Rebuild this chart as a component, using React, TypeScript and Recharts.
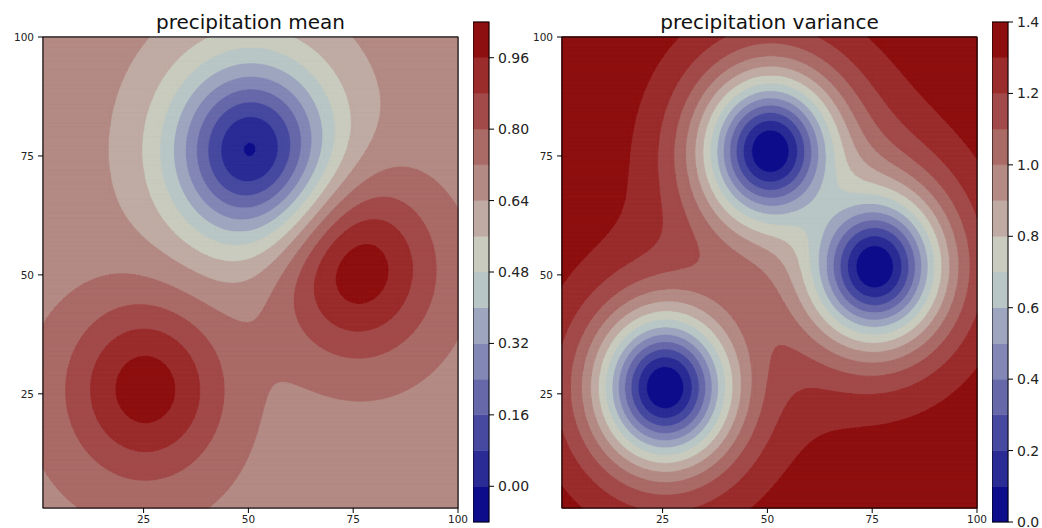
import React from 'react';
import { ComposedChart, XAxis, YAxis, ReferenceArea } from 'recharts';

// ---------- values ----------
const titles = ['precipitation mean', 'precipitation variance'];

// grid coordinates (both axes run 1..100)
const gridCoords: number[] = Array.from({ length: 100 }, (_, i) => i + 1);
const axisTicks = [25, 50, 75, 100];

// observation sites (centres of the wells / peaks)
const siteX = [50.7, 75.6, 25.6];
const siteY = [76.0, 51.7, 26.3];

// mean surface: background level + a bump at every site
const meanBackground = 0.7;
const meanPeak = [-0.665, 0.35, 0.32];
const meanSpread = [360, 350, 350];
const meanHalo = [-0.05, 0, 0];
const meanHaloSpread = [3000, 3000, 3000];

// variance surface: prior variance, correlation scale / power
const priorVariance = 1.4;
const corrScale = 950;
const corrPower = 1.8;

// contour levels and colours
const meanLevels = [-0.08, 0, 0.08, 0.16, 0.24, 0.32, 0.4, 0.48, 0.56, 0.64, 0.72, 0.8, 0.88, 0.96, 1.04];
const varLevels = [0, 0.1, 0.2, 0.3, 0.4, 0.5, 0.6, 0.7, 0.8, 0.9, 1.0, 1.1, 1.2, 1.3, 1.4];
const bandColors = [
  '#0d0d8c', '#2b2b96', '#4749a0', '#6668aa', '#8387b6', '#9ea6bf', '#b9c6c6',
  '#c8cbbd', '#bfaba3', '#b48a84', '#aa6a66', '#a24a49', '#9a2c2c', '#8e0f0f',
];
const meanTicks = [0, 0.16, 0.32, 0.48, 0.64, 0.8, 0.96];
const varTicks = [0, 0.2, 0.4, 0.6, 0.8, 1.0, 1.2, 1.4];

// ---------- surfaces ----------
function meanAt(u: number, v: number): number {
  let s = meanBackground;
  for (let i = 0; i < siteX.length; i++) {
    const d2 = (u - siteX[i]) ** 2 + (v - siteY[i]) ** 2;
    s += meanPeak[i] * Math.exp(-d2 / meanSpread[i]) + meanHalo[i] * Math.exp(-d2 / meanHaloSpread[i]);
  }
  return s;
}

const corr = (d2: number) => Math.pow(1 + d2 / corrScale, -corrPower);

// each site removes part of the prior variance; the sites' informations add
function varAt(u: number, v: number): number {
  let prec = -(siteX.length - 1) / priorVariance;
  for (let i = 0; i < siteX.length; i++) {
    const k = corr((u - siteX[i]) ** 2 + (v - siteY[i]) ** 2);
    const vi = Math.max(1e-6, priorVariance * (1 - k * k));
    prec += 1 / vi;
  }
  return Math.max(0, 1 / prec);
}

const meanField = gridCoords.map((v) => gridCoords.map((u) => meanAt(u, v)));
const varField = gridCoords.map((v) => gridCoords.map((u) => varAt(u, v)));

// ---------- filled contour drawn inside the library's rectangle ----------
function makeContour(field: number[][], levels: number[]) {
  return (props: any) => {
    const { x, y, width, height } = props;
    const n = gridCoords.length;
    const g0 = gridCoords[0];
    const g1 = gridCoords[n - 1];
    const sx = (u: number) => (x + ((u - g0) / (g1 - g0)) * width).toFixed(2);
    const sy = (v: number) => (y + ((g1 - v) / (g1 - g0)) * height).toFixed(2);
    const paths: React.ReactNode[] = [];
    for (let k = 1; k < levels.length - 1; k++) {
      const t = levels[k];
      const parts: string[] = [];
      const rect = (i0: number, i1: number, j: number) =>
        `M${sx(gridCoords[i0])},${sy(gridCoords[j])}L${sx(gridCoords[i1])},${sy(gridCoords[j])}L${sx(gridCoords[i1])},${sy(gridCoords[j + 1])}L${sx(gridCoords[i0])},${sy(gridCoords[j + 1])}Z`;
      for (let j = 0; j < n - 1; j++) {
        let run = -1;
        for (let i = 0; i < n - 1; i++) {
          const a = field[j][i], b = field[j][i + 1], c = field[j + 1][i + 1], e = field[j + 1][i];
          const full = a >= t && b >= t && c >= t && e >= t;
          if (full) {
            if (run < 0) run = i;
            continue;
          }
          if (run >= 0) {
            parts.push(rect(run, i, j));
            run = -1;
          }
          if (a < t && b < t && c < t && e < t) continue;
          const cs: number[][] = [
            [gridCoords[i], gridCoords[j], a],
            [gridCoords[i + 1], gridCoords[j], b],
            [gridCoords[i + 1], gridCoords[j + 1], c],
            [gridCoords[i], gridCoords[j + 1], e],
          ];
          const pts: string[] = [];
          for (let m = 0; m < 4; m++) {
            const p = cs[m], q = cs[(m + 1) % 4];
            if (p[2] >= t) pts.push(`${sx(p[0])},${sy(p[1])}`);
            if (p[2] >= t !== q[2] >= t) {
              const f = (t - p[2]) / (q[2] - p[2]);
              pts.push(`${sx(p[0] + f * (q[0] - p[0]))},${sy(p[1] + f * (q[1] - p[1]))}`);
            }
          }
          parts.push('M' + pts.join('L') + 'Z');
        }
        if (run >= 0) parts.push(rect(run, n - 1, j));
      }
      paths.push(
        <path key={k} d={parts.join('')} fill={bandColors[k]} stroke={bandColors[k]} strokeWidth={0.6} strokeLinejoin="round" />
      );
    }
    return (
      <g>
        <rect x={x} y={y} width={width} height={height} fill={bandColors[0]} />
        {paths}
        <rect x={x} y={y} width={width} height={height} fill="none" stroke="#000" strokeWidth={1} />
      </g>
    );
  };
}

// colour bar drawn inside the library's rectangle for the full value range
function makeBar(levels: number[]) {
  return (props: any) => {
    const { x, y, width, height } = props;
    const lo = levels[0];
    const hi = levels[levels.length - 1];
    const py = (v: number) => y + ((hi - v) / (hi - lo)) * height;
    return (
      <g>
        {levels.slice(0, -1).map((l, k) => (
          <rect
            key={k}
            x={x}
            y={py(levels[k + 1])}
            width={width}
            height={py(l) - py(levels[k + 1])}
            fill={bandColors[k]}
            stroke={bandColors[k]}
            strokeWidth={0.5}
          />
        ))}
        <rect x={x} y={y} width={width} height={height} fill="none" stroke="#000" strokeWidth={1} />
      </g>
    );
  };
}

const tickFont = { fontSize: 10.5, fill: '#222', fontFamily: 'DejaVu Sans' };
const cbFont = { fontSize: 14, fill: '#222', fontFamily: 'DejaVu Sans' };

function FieldPanel({ field, levels }: { field: number[][]; levels: number[] }) {
  return (
    <ComposedChart width={480} height={528} margin={{ top: 37, right: 22, bottom: 0, left: 0 }} data={[]}>
      <XAxis
        type="number"
        dataKey="x"
        domain={[1, 100]}
        ticks={axisTicks}
        interval={0}
        allowDataOverflow
        axisLine={false}
        tickLine={{ stroke: '#000' }}
        tickSize={5}
        tickMargin={3}
        height={20}
        tick={tickFont}
      />
      <YAxis
        type="number"
        dataKey="y"
        domain={[1, 100]}
        ticks={axisTicks}
        interval={0}
        allowDataOverflow
        axisLine={false}
        tickLine={{ stroke: '#000' }}
        tickSize={5}
        tickMargin={4}
        width={43}
        tick={tickFont}
      />
      <ReferenceArea x1={1} x2={100} y1={1} y2={100} shape={makeContour(field, levels)} />
    </ComposedChart>
  );
}

function ColorBar({ levels, ticks, digits }: { levels: number[]; ticks: number[]; digits: number }) {
  const lo = levels[0];
  const hi = levels[levels.length - 1];
  return (
    <ComposedChart width={66} height={516} margin={{ top: 10, right: 0, bottom: 6, left: 0 }} data={[]}>
      <XAxis type="number" dataKey="x" domain={[0, 1]} allowDataOverflow hide />
      <YAxis
        type="number"
        dataKey="y"
        orientation="right"
        domain={[lo, hi]}
        ticks={ticks}
        interval={0}
        allowDataOverflow
        axisLine={false}
        tickLine={{ stroke: '#000' }}
        tickSize={5}
        tickMargin={4}
        width={50}
        tick={cbFont}
        tickFormatter={(v: number) => v.toFixed(digits)}
      />
      <ReferenceArea x1={0} x2={1} y1={lo} y2={hi} shape={makeBar(levels)} />
    </ComposedChart>
  );
}

export default function App() {
  return (
    <div style={{ position: 'absolute', left: 0, top: 0, width: 1042, height: 528, background: '#fff', fontFamily: 'DejaVu Sans', overflow: 'hidden' }}>
      <div style={{ position: 'absolute', left: 0, top: 0 }}>
        <FieldPanel field={meanField} levels={meanLevels} />
      </div>
      <div style={{ position: 'absolute', left: 519, top: 0 }}>
        <FieldPanel field={varField} levels={varLevels} />
      </div>
      <div style={{ position: 'absolute', left: 473, top: 12 }}>
        <ColorBar levels={meanLevels} ticks={meanTicks} digits={2} />
      </div>
      <div style={{ position: 'absolute', left: 992, top: 12 }}>
        <ColorBar levels={varLevels} ticks={varTicks} digits={1} />
      </div>
      <svg width={1042} height={528} style={{ position: 'absolute', left: 0, top: 0, pointerEvents: 'none' }}>
        <text x={250.5} y={28.7} textAnchor="middle" fontSize={20} fontFamily="DejaVu Sans" fill="#111">
          {titles[0]}
        </text>
        <text x={769.5} y={28.7} textAnchor="middle" fontSize={20} fontFamily="DejaVu Sans" fill="#111">
          {titles[1]}
        </text>
      </svg>
    </div>
  );
}
